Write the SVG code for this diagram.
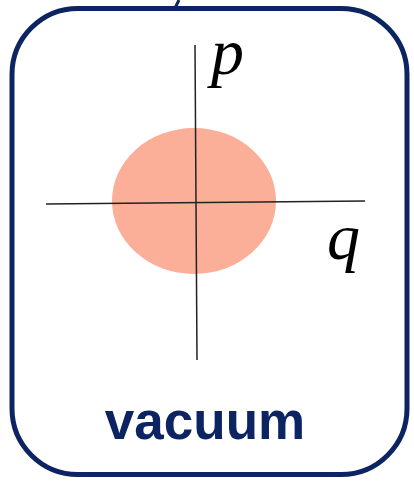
<svg xmlns="http://www.w3.org/2000/svg" width="414" height="483" viewBox="0 0 414 483">
<style>
.frame{fill:#fff;stroke:#0c2461;stroke-width:5}
.axis{stroke:#222;stroke-width:1.5;fill:none}
.var{font-family:"Liberation Serif",serif;font-style:italic;font-size:66px;fill:#000}
.lbl{font-family:"Liberation Sans",Arial,sans-serif;font-weight:bold;font-size:53px;fill:#0c2461}
</style>
<rect width="414" height="483" fill="#fff"/>
<g id="frame">
<line x1="179" y1="0" x2="175" y2="8" stroke="#0c2461" stroke-width="3"/>
<rect class="frame" x="12" y="8.5" width="395" height="466" rx="66" ry="66"/>
</g>
<g id="state">
<ellipse cx="194" cy="201" rx="82" ry="73" fill="#fbae98"/>
</g>
<g id="connectors">
<line class="axis" x1="46" y1="204" x2="365" y2="201"/>
<line class="axis" x1="195" y1="45" x2="197" y2="360"/>
</g>
<g id="labels">
<text class="var" x="211" y="74">p</text>
<text class="var" x="327" y="259">q</text>
<text class="lbl" x="205" y="439" text-anchor="middle">vacuum</text>
</g>
</svg>
